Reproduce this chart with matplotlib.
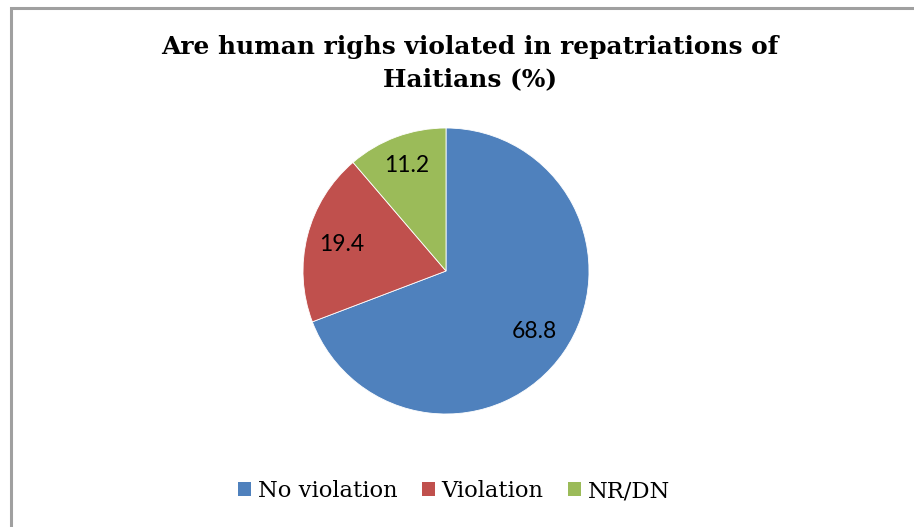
import numpy as np
import matplotlib
matplotlib.use("Agg")
import matplotlib.pyplot as plt
from matplotlib.patches import Rectangle, Patch

categories = ["No violation", "Violation", "NR/DN"]
values = [68.8, 19.4, 11.2]
colors = ["#4F81BD", "#C0504D", "#9BBB59"]
title = "Are human righs violated in repatriations of\nHaitians (%)"

W, H = 914, 527
fig = plt.figure(figsize=(W / 100, H / 100), dpi=100)
fig.patch.set_facecolor("white")

# chart frame (left and top edges visible, continuing past the image edges)
frame = Rectangle((10.5 / W, -0.05), 1.2, (H - 8 + 0.05 * H) / H + 0.0,
                  transform=fig.transFigure, fill=False,
                  edgecolor="#A0A0A0", linewidth=2.2, zorder=0)
fig.patches.append(frame)

cx, cy, r = 446, 271, 143
ax = fig.add_axes([(cx - r) / W, (H - cy - r) / H, 2 * r / W, 2 * r / H])
wedges, _ = ax.pie(values, colors=colors, startangle=90, counterclock=False,
                   radius=1.0, wedgeprops=dict(edgecolor="white", linewidth=0.6))
ax.set_xlim(-1, 1)
ax.set_ylim(-1, 1)
ax.set_aspect("equal")
ax.axis("off")

# value labels inside each slice
label_r = [0.75, 0.75, 0.79]
for w, v, lr in zip(wedges, values, label_r):
    ang = np.deg2rad((w.theta1 + w.theta2) / 2)
    ax.text(lr * np.cos(ang), lr * np.sin(ang), f"{v}", ha="center", va="center",
            fontsize=16.5, family="Lato", color="black")

fig.text(470 / W, 1 - 63 / H, title, ha="center", va="center", fontsize=17.9,
         fontweight="bold", family="DejaVu Serif", linespacing=1.45)

handles = [Patch(facecolor=c, edgecolor="none") for c in colors]
fig.legend(handles, categories, loc="center", bbox_to_anchor=(454 / W, 1 - 491 / H),
           ncol=3, frameon=False, prop=dict(family="DejaVu Serif", size=16.3),
           handlelength=0.55, handleheight=0.55, handletextpad=0.3, columnspacing=1.1)

fig.savefig("out.png", dpi=100, facecolor="white")
